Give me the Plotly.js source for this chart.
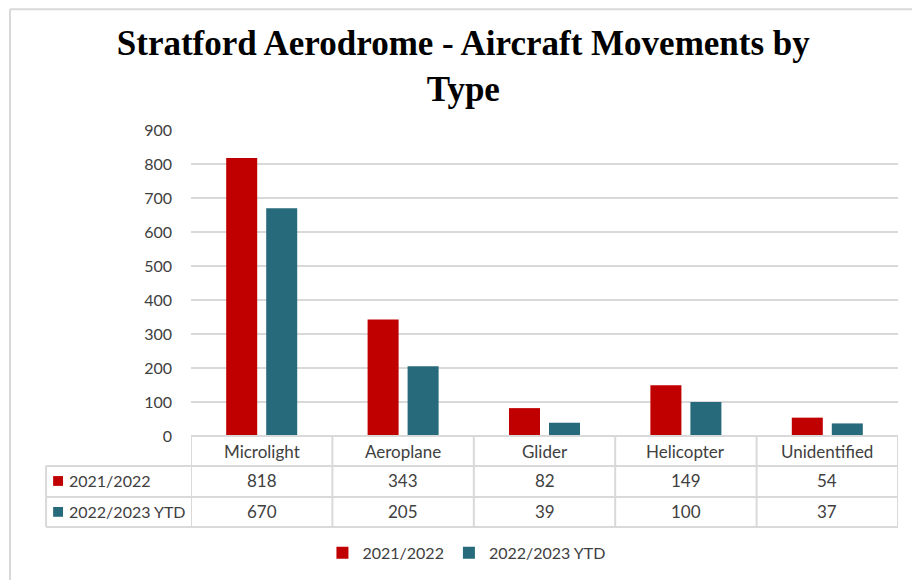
<!DOCTYPE html>
<html>
<head>
<meta charset="utf-8">
<script src="https://cdn.plot.ly/plotly-3.0.1.min.js"></script>
<style>html,body{margin:0;padding:0;background:#fff;}#chart{width:912px;height:580px;}</style>
</head>
<body>
<div id="chart"></div>
<script>
const categories = ["Microlight", "Aeroplane", "Glider", "Helicopter", "Unidentified"];
const seriesNames = ["2021/2022", "2022/2023 YTD"];
const values2122 = [818, 343, 82, 149, 54];
const values2223 = [670, 205, 39, 100, 37];
const yTicks = [0, 100, 200, 300, 400, 500, 600, 700, 800, 900];
const colors = ["#C00000", "#276A7C"];

const txtFont = {family: "Lato, 'Open Sans', sans-serif", size: 16, color: "#404040"};
const tabFont = {family: "Lato, 'Open Sans', sans-serif", size: 17, color: "#404040"};
const lineCol = "#d9d9d9";

const traces = [
  {type: "bar", name: seriesNames[0], x: categories, y: values2122, marker: {color: colors[0]}, hoverinfo: "x+y"},
  {type: "bar", name: seriesNames[1], x: categories, y: values2223, marker: {color: colors[1]}, hoverinfo: "x+y"}
];

// table geometry (paper coords)
const yHeadBot = -0.098, yRow1Bot = -0.199, yTabBot = -0.297;
const yHeadTxt = -0.052, yRow1Txt = -0.147, yRow2Txt = -0.248;
const xTabLeft = -0.205;

const shapes = [];
const annotations = [];
const ln = {color: lineCol, width: 2};
// outer chart border (top & left)
shapes.push({type: "line", xref: "paper", yref: "paper", x0: -0.256, x1: 1.05, y0: 1.395, y1: 1.395, line: {color: "#d9d9d9", width: 2}});
shapes.push({type: "line", xref: "paper", yref: "paper", x0: -0.256, x1: -0.256, y0: 1.395, y1: -0.5, line: {color: "#d9d9d9", width: 2}});
// horizontal table lines
shapes.push({type: "line", xref: "paper", yref: "paper", x0: 0, x1: 1, y0: 0, y1: 0, line: ln});
[yHeadBot, yRow1Bot, yTabBot].forEach(y => shapes.push({type: "line", xref: "paper", yref: "paper", x0: xTabLeft, x1: 1, y0: y, y1: y, line: ln}));
// vertical lines
for (let i = 0; i <= categories.length; i++) {
  shapes.push({type: "line", xref: "x", yref: "paper", x0: i - 0.5, x1: i - 0.5, y0: 0, y1: yTabBot, line: ln});
}
shapes.push({type: "line", xref: "paper", yref: "paper", x0: xTabLeft, x1: xTabLeft, y0: yHeadBot, y1: yTabBot, line: ln});

// row label squares
const rowYs = [yRow1Txt, yRow2Txt];
rowYs.forEach((y, r) => {
  shapes.push({type: "rect", xref: "paper", yref: "paper", x0: -0.195, x1: -0.181, y0: y - 0.016, y1: y + 0.016, fillcolor: colors[r], line: {width: 0}});
  annotations.push({xref: "paper", yref: "paper", x: -0.176, y: y, xanchor: "left", yanchor: "middle", text: seriesNames[r], showarrow: false, font: txtFont});
});
categories.forEach((c, i) => {
  annotations.push({xref: "x", yref: "paper", x: c, y: yHeadTxt, yanchor: "middle", text: c, showarrow: false, font: tabFont});
  annotations.push({xref: "x", yref: "paper", x: c, y: yRow1Txt, yanchor: "middle", text: String(values2122[i]), showarrow: false, font: tabFont});
  annotations.push({xref: "x", yref: "paper", x: c, y: yRow2Txt, yanchor: "middle", text: String(values2223[i]), showarrow: false, font: tabFont});
});

const layout = {
  width: 912, height: 580,
  margin: {l: 191, r: 14, t: 130, b: 144},
  paper_bgcolor: "#fff", plot_bgcolor: "#fff",
  title: {text: "Stratford Aerodrome - Aircraft Movements by<br>Type", x: 0.508, xanchor: "center", y: 0.905, yanchor: "middle",
          font: {family: "'Liberation Serif', serif", size: 35, color: "#000", weight: "bold"}},
  barmode: "group", bargap: 0.434, bargroupgap: 0.225,
  xaxis: {type: "category", range: [-0.5, 4.5], showticklabels: false, ticks: "", showgrid: false, zeroline: false, showline: false, fixedrange: true},
  yaxis: {range: [0, 900], tickvals: yTicks, ticktext: yTicks.map(String), showgrid: true, gridcolor: lineCol, gridwidth: 2, zeroline: false,
          showline: false, ticks: "", tickfont: txtFont, ticklabelstandoff: 18, fixedrange: true},
  legend: {orientation: "h", xref: "container", yref: "container", x: 0.512, xanchor: "center", y: 0.047, yanchor: "middle", font: txtFont, itemwidth: 30, traceorder: "normal"},
  shapes: shapes,
  annotations: annotations
};

Plotly.newPlot("chart", traces, layout, {displayModeBar: false, staticPlot: true});
</script>
</body>
</html>
